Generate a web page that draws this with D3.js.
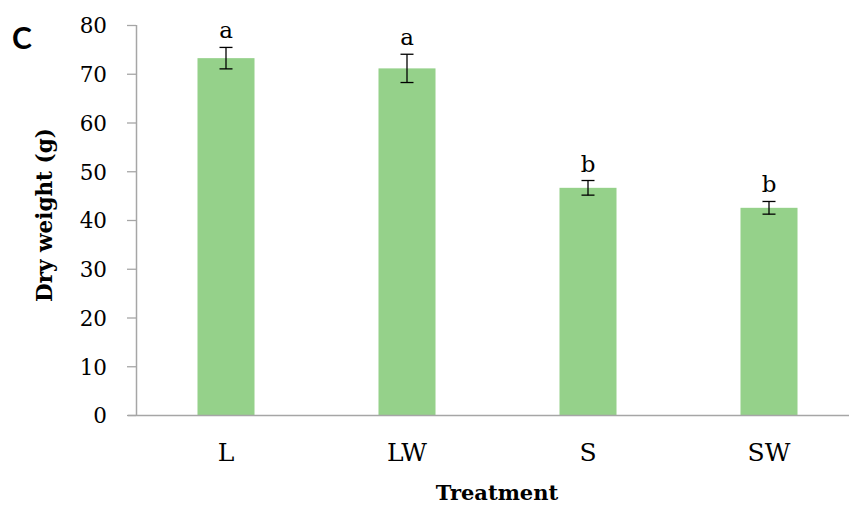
<!DOCTYPE html>
<html>
<head>
<meta charset="utf-8">
<script src="https://cdn.jsdelivr.net/npm/d3@7"></script>
<style>
  html, body { margin: 0; padding: 0; background: #fff; }
  svg { display: block; }
</style>
</head>
<body>
<svg id="chart" width="849" height="506"></svg>
<script>
// Dry weight per treatment, with standard error and significance letters
const treatments = ["L", "LW", "S", "SW"];
const dryWeight = [73.2, 71.1, 46.6, 42.5];
const stdError = [2.2, 2.9, 1.5, 1.3];
const groupLetters = ["a", "a", "b", "b"];
const yTicks = [0, 10, 20, 30, 40, 50, 60, 70, 80];

const svg = d3.select("#chart");
const serif = "'DejaVu Serif', 'Liberation Serif', serif";

const x = d3.scaleBand()
  .domain(treatments)
  .range([135.5, 859.5])
  .paddingInner(0.685)
  .paddingOuter(0.3425);

const y = d3.scaleLinear().domain([0, 80]).range([415, 25]);

// y axis
const yAxis = svg.append("g")
  .attr("transform", "translate(136,0)")
  .call(d3.axisLeft(y).tickValues(yTicks).tickSize(9).tickPadding(20));
yAxis.select(".domain").attr("stroke", "#a6a6a6").attr("stroke-width", 1.5)
  .attr("d", `M0.5,${y(80)}V${y(0)}`);
yAxis.selectAll(".tick line").attr("stroke", "#a6a6a6").attr("stroke-width", 1.3);
yAxis.selectAll(".tick text")
  .attr("font-family", serif).attr("font-size", 21.5).attr("fill", "#000")
  .attr("dy", "0.36em");

// bars
svg.append("g").selectAll("rect")
  .data(treatments)
  .join("rect")
  .attr("x", d => x(d))
  .attr("width", x.bandwidth())
  .attr("y", (d, i) => y(dryWeight[i]))
  .attr("height", (d, i) => y(0) - y(dryWeight[i]))
  .attr("fill", "#95d18a");

// x axis
const xAxis = svg.append("g")
  .attr("transform", `translate(0,${y(0)})`)
  .call(d3.axisBottom(x).tickSize(0).tickPadding(28));
xAxis.select(".domain").attr("stroke", "#a6a6a6").attr("stroke-width", 1.5)
  .attr("d", "M128,0.5H859");
xAxis.selectAll(".tick text")
  .attr("font-family", serif).attr("font-size", 25).attr("fill", "#000");

// error bars
const eb = svg.append("g").attr("stroke", "#000").attr("stroke-width", 1.3);
treatments.forEach((t, i) => {
  const cx = x(t) + x.bandwidth() / 2;
  const hi = y(dryWeight[i] + stdError[i]);
  const lo = y(dryWeight[i] - stdError[i]);
  eb.append("line").attr("x1", cx).attr("x2", cx).attr("y1", hi).attr("y2", lo);
  eb.append("line").attr("x1", cx - 6.5).attr("x2", cx + 6.5).attr("y1", hi).attr("y2", hi);
  eb.append("line").attr("x1", cx - 6.5).attr("x2", cx + 6.5).attr("y1", lo).attr("y2", lo);
});

// significance letters
svg.append("g").selectAll("text")
  .data(treatments)
  .join("text")
  .attr("x", d => x(d) + x.bandwidth() / 2)
  .attr("y", (d, i) => y(dryWeight[i] + stdError[i]) - 9)
  .attr("text-anchor", "middle")
  .attr("font-family", serif).attr("font-size", 23)
  .text((d, i) => groupLetters[i]);

// axis titles
svg.append("text")
  .attr("x", 497).attr("y", 500)
  .attr("text-anchor", "middle")
  .attr("font-family", serif).attr("font-size", 21).attr("font-weight", "bold")
  .text("Treatment");

svg.append("text")
  .attr("transform", "translate(52,215) rotate(-90)")
  .attr("text-anchor", "middle")
  .attr("font-family", serif).attr("font-size", 21.5).attr("font-weight", "bold")
  .text("Dry weight (g)");

// panel label
svg.append("text")
  .attr("x", 12).attr("y", 49)
  .attr("font-family", "Lato, 'Open Sans', sans-serif")
  .attr("font-size", 30).attr("font-weight", "bold")
  .text("C");
</script>
</body>
</html>
